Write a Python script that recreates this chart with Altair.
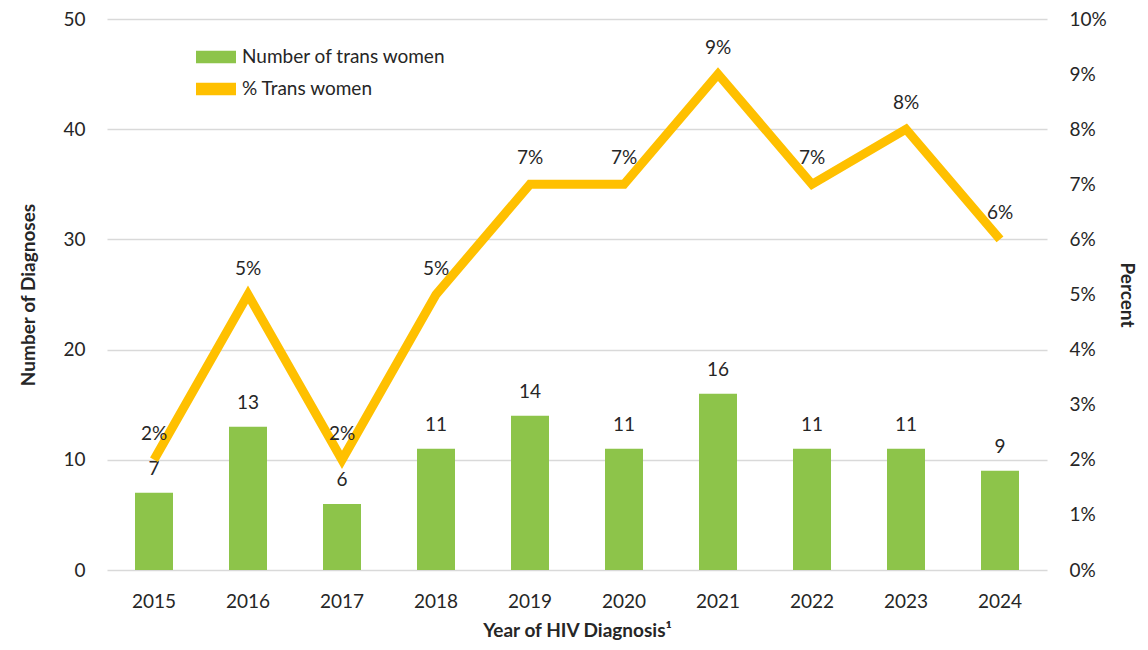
import altair as alt
import pandas as pd

years = ["2015", "2016", "2017", "2018", "2019", "2020", "2021", "2022", "2023", "2024"]
counts = [7, 13, 6, 11, 14, 11, 16, 11, 11, 9]
pct = [2, 5, 2, 5, 7, 7, 9, 7, 8, 6]

df = pd.DataFrame({
    "year": years,
    "count": counts,
    "pct": [p / 100 for p in pct],
    "pct_label": [f"{p}%" for p in pct],
    "s_bar": "Number of trans women",
    "s_line": " % Trans women",
})

FONT = "Lato"
FS = 19
TXT = "#262626"
GREEN = "#8DC44A"
GOLD = "#FFC000"

color_scale = alt.Scale(domain=["Number of trans women", " % Trans women"], range=[GREEN, GOLD])

x = alt.X("year:N", title="Year of HIV Diagnosis¹",
          scale=alt.Scale(paddingInner=0.6, paddingOuter=0.3),
          axis=alt.Axis(labelAngle=0, labelPadding=22, titlePadding=10, labelBaseline="top"))

base = alt.Chart(df)

bars = base.mark_bar(size=38).encode(
    x=x,
    y=alt.Y("count:Q", title="Number of Diagnoses",
            scale=alt.Scale(domain=[0, 50]),
            axis=alt.Axis(values=[0, 10, 20, 30, 40, 50], grid=True, labelPadding=22, titlePadding=24)),
    color=alt.Color("s_bar:N", scale=color_scale, title=None,
                    legend=alt.Legend(orient="none", legendX=99, legendY=28,
                                      symbolType="M-2,-0.62L2,-0.62L2,0.62L-2,0.62Z",
                                      symbolSize=400, symbolStrokeWidth=0, symbolOpacity=1,
                                      labelFontSize=FS, labelFont=FONT, labelColor=TXT,
                                      labelLimit=0, rowPadding=12, labelOffset=16, padding=0)),
)
bar_text = base.mark_text(baseline="alphabetic", dy=-18, fontSize=FS, font=FONT, color=TXT).encode(
    x=x, y=alt.Y("count:Q", scale=alt.Scale(domain=[0, 50])), text="count:Q")

left = alt.layer(bars, bar_text)

yr = alt.Y("pct:Q", title="Percent", scale=alt.Scale(domain=[0, 0.1]),
           axis=alt.Axis(orient="right", format=".0%", values=[i / 100 for i in range(11)],
                         grid=False, labelPadding=22, titlePadding=10))

line = base.mark_line(strokeWidth=9, strokeJoin="miter").encode(
    x=x,
    y=yr,
    color=alt.Color("s_line:N", scale=color_scale, title=None, legend=None),
)
line_text = base.mark_text(baseline="alphabetic", dy=-20, fontSize=FS, font=FONT, color=TXT).encode(
    x=x, y=yr, text="pct_label:N")

right = alt.layer(line, line_text)

chart = alt.layer(left, right).resolve_scale(y="independent").properties(
    width=940, height=551,
    autosize=alt.AutoSizeParams(type="none"),
    padding={"left": 99, "top": 11, "right": 92, "bottom": 70},
).configure_view(stroke=None).configure_axis(
    domain=False, ticks=False, gridColor="#D9D9D9", gridWidth=1.5,
    labelFont=FONT, labelFontSize=FS, labelColor=TXT,
    titleFont=FONT, titleFontSize=FS, titleFontWeight="bold", titleColor=TXT,
)

chart.save("out.html", embed_options={"renderer": "svg", "actions": False})
